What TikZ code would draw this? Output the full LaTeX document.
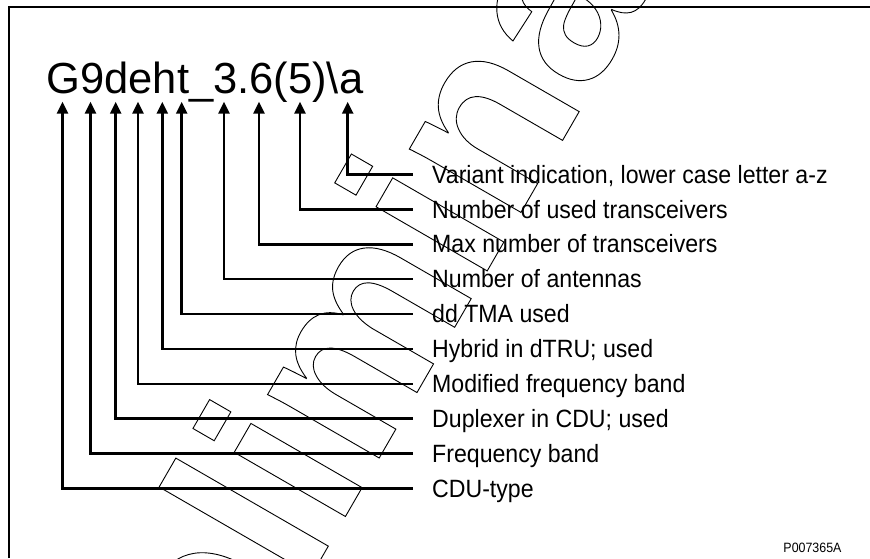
\documentclass[tikz,border=0pt]{standalone}
\usepackage{fontspec}
\setmainfont{Liberation Sans}
\newfontfamily\lblfont[FakeStretch=0.925]{Liberation Sans}
\newfontfamily\idfont[FakeStretch=0.92]{Liberation Sans}
\usetikzlibrary{arrows.meta}
\begin{document}
\begin{tikzpicture}[x=1pt,y=-1pt,
  conn/.style={line width=2.6pt,-{Triangle[width=11pt,length=12pt]}},
  lbl/.style={anchor=base west,inner sep=0pt,font=\lblfont\fontsize{25}{29}\selectfont},
  framerule/.style={line width=2pt},
  wmark/.style={anchor=base west,inner sep=0pt,rotate=60,font=\bfseries\fontsize{243}{250}\selectfont}]
\useasboundingbox (0,0) rectangle (870,558);
% frame
\draw[framerule] (9.3,558) -- (9.3,7) -- (870,7);
% title
\node[anchor=base west,inner sep=0pt,font=\fontsize{43.5}{50}\selectfont] (title) at (46.3,93.3) {G9deht\_3.6(5)\textbackslash a};
% arrow tips under the title characters
\foreach \n/\x in {1/347.7,2/300,3/259,4/224,5/181.7,6/162.3,7/138,8/115.7,9/90.5,10/62.5}
  \coordinate (a\n) at (\x,101.7);
% labels and line ends
\foreach \n/\t [count=\k from 0] in {1/{Variant indication, lower case letter a-z},2/{Number of used transceivers},3/{Max number of transceivers},4/{Number of antennas},5/{dd TMA used},6/{Hybrid in dTRU; used},7/{Modified frequency band},8/{Duplexer in CDU; used},9/{Frequency band},10/{CDU-type}}{
  \coordinate (s\n) at (412.8,174.4+34.91*\k);
  \node[lbl] (l\n) at (432,183.1+34.91*\k) {\t};
}
\foreach \n in {1,...,10}
  \draw[conn] (s\n) -| (a\n);
% figure id
\node[anchor=base east,inner sep=0pt,font=\idfont\fontsize{13.5}{15}\selectfont] (fid) at (841.7,552.7) {P007365A};
% watermark
\begin{scope}
\clip (0,0) rectangle (870,558);
\node[wmark] (wm) at (107.2,929.1) {\special{pdf:literal direct 1 Tr 0.9 w}Preliminary\special{pdf:literal direct 0 Tr}};
\end{scope}
\end{tikzpicture}
\end{document}
